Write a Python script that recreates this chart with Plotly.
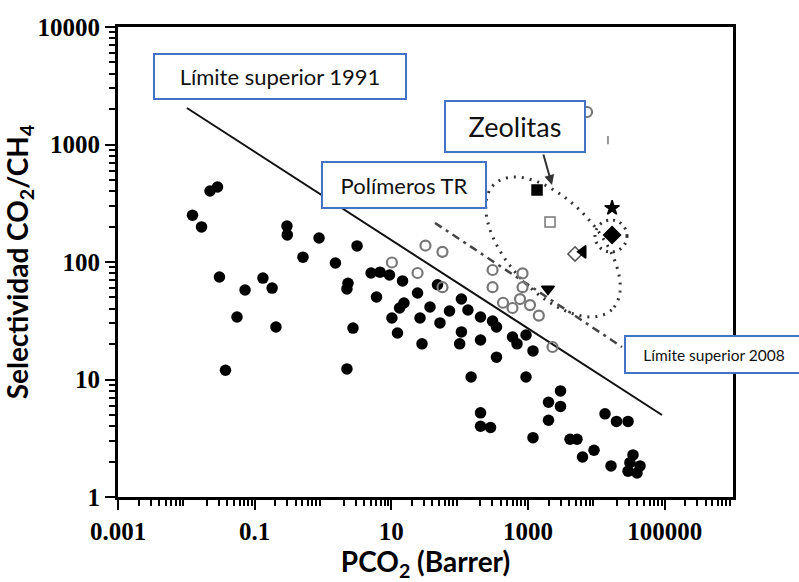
import numpy as np
import plotly.graph_objects as go

# ---------------- data ----------------
# Conventional polymers (filled circles)
poly_x = [0.0123, 0.0167, 0.0222, 0.0286, 0.0305, 0.0723, 0.132, 0.180, 0.0552, 0.205,
          0.0374, 0.297, 0.30, 0.509, 0.875, 1.52, 3.15, 2.32, 2.24, 2.75,
          2.24, 5.05, 6.83, 9.4, 6.07, 14.6, 24.2, 15.3, 13.2, 10.2,
          12.3, 26.3, 36.8, 51.5, 71, 28.1, 47.4, 106, 132, 202,
          303, 346, 106, 100, 202, 593, 690, 935, 1183, 346,
          147, 935, 202, 202, 283, 2990, 1995, 2990, 1995, 1183,
          4120, 5210, 9250, 6280, 13400, 19700, 29100, 16400, 34400, 31000,
          29100, 43600, 39400]
poly_y = [250, 199, 402, 435, 74.5, 57.8, 73, 60, 34, 28,
          12.0, 202, 170, 110, 160, 98, 137, 66, 59, 27.4,
          12.3, 80.6, 82, 77.5, 50.4, 69, 54.5, 44.8, 40.6, 33.4,
          24.9, 33.4, 41.4, 30.3, 38.3, 20.1, 64, 48.4, 39, 34,
          31.4, 28, 25.4, 20.1, 21.7, 23, 20.1, 23.9, 17.5, 15.5,
          10.5, 10.5, 5.2, 4.0, 3.9, 8.0, 6.4, 5.9, 4.5, 3.2,
          3.1, 3.1, 2.5, 2.19, 5.1, 4.4, 4.4, 1.84, 2.28, 1.96,
          1.66, 1.84, 1.6]

# TR polymers (open circles)
tr_x = [31.6, 56, 10.2, 24.2, 56, 303, 303, 832, 832, 431, 593, 764, 1070, 1440, 2285, 7310]
tr_y = [138, 122, 99, 80.6, 61, 85.5, 61, 80, 61, 45, 40.6, 48.4, 43, 35, 18.9, 1890]

# Zeolites (various symbols)
zeo_x = [1355, 2100, 4880, 6380, 1960, 17000, 17000, 14800]
zeo_y = [410, 219, 117, 122, 59, 288, 170, 1090]
zeo_symbols = ["square", "square-open", "diamond-open", "triangle-left", "triangle-down",
               "star", "diamond", "line-ns"]
zeo_colors = ["black", "#777", "#555", "black", "black", "black", "black", "#777"]
zeo_sizes = [10, 10, 11, 11, 11, 11, 13, 6]

# Upper bounds
ub1991_x = [0.0102, 91400]
ub1991_y = [2045, 4.99]
ub2008_x = [43.6, 23800]
ub2008_y = [215, 18.9]

x_label_vals = [1e-3, 1e-1, 10, 1e3, 1e5]
x_label_text = ["0.001", "0.1", "10", "1000", "100000"]
x_plain_vals = [1e-2, 1, 100, 1e4, 1e6]
y_tick_vals = [1, 10, 100, 1000, 10000]
y_tick_text = ["1", "10", "100", "1000", "10000"]

# ---------------- layout geometry ----------------
W, H = 799, 582
L, R, T, B = 118, 66, 27, 85
PW, PH = W - L - R, H - T - B


def px2paper(px, py):
    return (px - L) / PW, (H - B - py) / PH


fig = go.Figure()

fig.add_trace(go.Scatter(x=ub1991_x, y=ub1991_y, mode="lines",
                         line=dict(color="#111", width=2), showlegend=False, hoverinfo="skip"))
fig.add_trace(go.Scatter(x=ub2008_x, y=ub2008_y, mode="lines",
                         line=dict(color="#444", width=2.5, dash="8px,5px,3px,5px"),
                         showlegend=False, hoverinfo="skip"))

fig.add_trace(go.Scatter(x=poly_x, y=poly_y, mode="markers",
                         marker=dict(symbol="circle", size=11.5, color="black"),
                         showlegend=False))
fig.add_trace(go.Scatter(x=tr_x, y=tr_y, mode="markers",
                         marker=dict(symbol="circle-open", size=10, color="#777",
                                     line=dict(width=2.2, color="#777")),
                         showlegend=False))
fig.add_trace(go.Scatter(x=zeo_x, y=zeo_y, mode="markers",
                         marker=dict(symbol=zeo_symbols, size=zeo_sizes, color=zeo_colors,
                                     opacity=1, line=dict(width=1.5, color=zeo_colors)),
                         showlegend=False))

# minor tick positions
x_minor = [d * 10.0 ** k for k in range(-3, 6) for d in range(2, 10)]
y_minor = [d * 10.0 ** k for k in range(0, 4) for d in range(2, 10)]

tickfont = dict(family="Liberation Serif", size=25, color="black", weight="bold")
common = dict(type="log", showgrid=False, showline=True, linecolor="black", linewidth=3,
              mirror=True, ticks="outside", ticklen=10, tickwidth=2, tickcolor="black",
              tickfont=tickfont, tickmode="array")
title_font = dict(family="Lato", size=28, color="black", weight="bold")

fig.update_layout(
    xaxis=dict(range=[-3, 6], tickvals=x_label_vals, ticktext=x_label_text,
               minor=dict(tickmode="array", tickvals=x_minor, ticks="outside", ticklen=6,
                          tickwidth=2, tickcolor="black"),
               title=dict(text="PCO<sub>2</sub> (Barrer)", font=title_font, standoff=16),
               **common),
    xaxis2=dict(type="log", range=[-3, 6], overlaying="x", anchor="y", side="bottom",
                tickmode="array", tickvals=x_plain_vals, showticklabels=False,
                ticks="outside", ticklen=10, tickwidth=2, tickcolor="black",
                showgrid=False, showline=False),
    yaxis=dict(range=[0, 4], tickvals=y_tick_vals, ticktext=y_tick_text,
               minor=dict(tickmode="array", tickvals=y_minor, ticks="outside", ticklen=6,
                          tickwidth=2, tickcolor="black"),
               title=dict(text="Selectividad CO<sub>2</sub>/CH<sub>4</sub>", font=title_font,
                          standoff=4),
               **common),
)

# ---------------- decorations ----------------
# dotted ellipse around zeolites (pixel geometry converted to paper)
cx, cy, a, b, ang = 553, 247, 86, 45, np.deg2rad(47)
t = np.linspace(0, 2 * np.pi, 90)
ex = cx + a * np.cos(t) * np.cos(ang) - b * np.sin(t) * np.sin(ang)
ey = cy + a * np.cos(t) * np.sin(ang) + b * np.sin(t) * np.cos(ang)
pts = [px2paper(u, v) for u, v in zip(ex, ey)]
path = "M " + " L ".join(f"{u:.4f},{v:.4f}" for u, v in pts) + " Z"
shapes = [dict(type="path", xref="paper", yref="paper", path=path, layer="below",
               line=dict(color="#333", width=3, dash="2px,6px"))]
x0, y0 = px2paper(595, 252)
x1, y1 = px2paper(627, 220)
shapes.append(dict(type="circle", xref="paper", yref="paper", x0=x0, y0=y0, x1=x1, y1=y1,
                   layer="below", line=dict(color="#333", width=3, dash="2px,5px")))

BLUE = "#4472C4"


def box(text, left, top, w, h, size):
    x, y = px2paper(left, top)
    return dict(text=text, xref="paper", yref="paper", x=x, y=y, xanchor="left", yanchor="top",
                showarrow=False, width=w - 6, height=h - 6, bgcolor="white",
                bordercolor=BLUE, borderwidth=2, borderpad=1,
                font=dict(family="Lato", size=size, color="#111"))


ax_head = px2paper(552, 185)
annotations = [
    dict(text="", xref="paper", yref="paper", x=ax_head[0], y=ax_head[1], ax=-9, ay=-32,
         showarrow=True, arrowhead=2, arrowsize=1, arrowwidth=2, arrowcolor="#333"),
    box("Límite superior 1991", 153, 53, 254, 47, 22),
    box("Polímeros TR", 321, 161, 166, 48, 22),
    box("Zeolitas", 444, 100, 142, 53, 27),
    box("Límite superior 2008", 624, 335, 180, 39, 15.5),
]

fig.update_layout(width=W, height=H, margin=dict(l=L, r=R, t=T, b=B, autoexpand=False),
                  plot_bgcolor="white", paper_bgcolor="white",
                  shapes=shapes, annotations=annotations, showlegend=False)

fig.write_html("out.html")
